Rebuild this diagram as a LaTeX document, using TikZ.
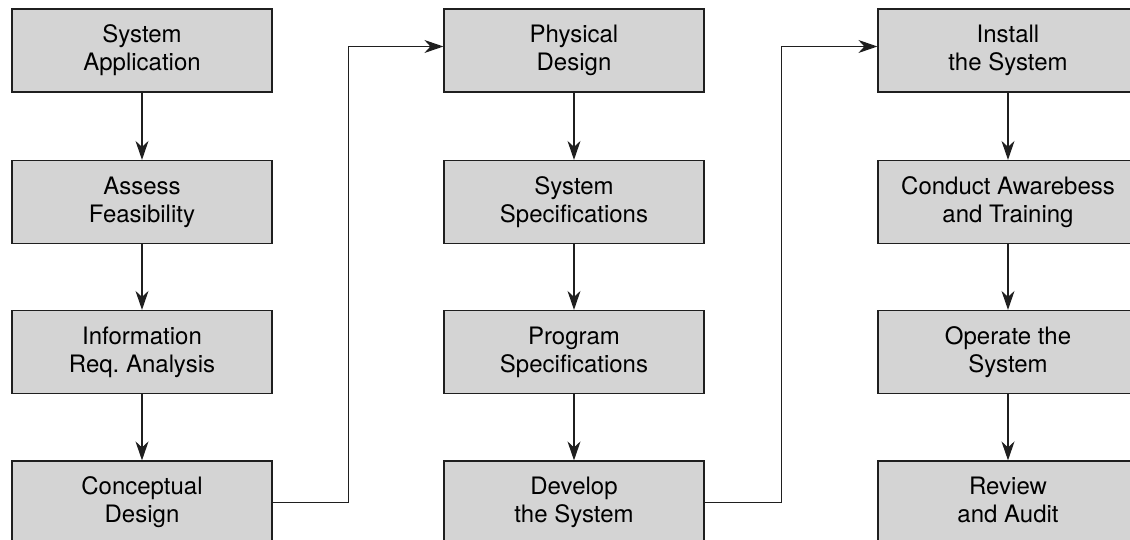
\documentclass[tikz,border=0pt]{standalone}
\usepackage{fontspec}
\setmainfont{TeX Gyre Heros}
\usepackage{tikz}
\usetikzlibrary{arrows.meta}

\definecolor{boxgray}{gray}{0.83}
\definecolor{linegray}{gray}{0.12}

\tikzset{
	stage/.style={draw=linegray, line width=1.2pt, fill=boxgray, minimum width=260pt,
		minimum height=83pt, inner sep=0pt, align=center,
		execute at begin node={\rule{0pt}{24pt}},
		execute at end node={\rule[-5pt]{0pt}{5pt}},
		font=\fontsize{24}{28}\selectfont},
	flow/.style={draw=linegray, line width=1.2pt,
		-{Stealth[length=19pt, width=13pt, inset=6pt]}}
}

\begin{document}
\begin{tikzpicture}[x=1pt, y=-1pt]
	\useasboundingbox (0,0) rectangle (1130,540);
% first column
	\node[stage] (sysapp)   at (142, 50.5)  {System\\Application};
	\node[stage] (feas)     at (142, 202)   {Assess\\Feasibility};
	\node[stage] (inforeq)  at (142, 352)   {Information\\Req.\ Analysis};
	\node[stage] (concept)  at (142, 502.5) {Conceptual\\Design};
% second column
	\node[stage] (phys)     at (574, 50.5)  {Physical\\Design};
	\node[stage] (sysspec)  at (574, 202)   {System\\Specifications};
	\node[stage] (progspec) at (574, 352)   {Program\\Specifications};
	\node[stage] (develop)  at (574, 502.5) {Develop\\the System};
% third column
	\node[stage] (install)  at (1008, 50.5)  {Install\\the System};
	\node[stage] (train)    at (1008, 202)   {Conduct Awarebess\\and Training};
	\node[stage] (operate)  at (1008, 352)   {Operate the\\System};
	\node[stage] (review)   at (1008, 502.5) {Review\\and Audit};
% arrows down each column
	\draw[flow] (sysapp) -- (feas);
	\draw[flow] (feas) -- (inforeq);
	\draw[flow] (inforeq) -- (concept);
	\draw[flow] (phys) -- (sysspec);
	\draw[flow] (sysspec) -- (progspec);
	\draw[flow] (progspec) -- (develop);
	\draw[flow] (install) -- (train);
	\draw[flow] (train) -- (operate);
	\draw[flow] (operate) -- (review);
% arrows between columns
	\draw[flow] (concept.east) -- ++(76,0) |- ([yshift=4pt]phys.west);
	\draw[flow] (develop.east) -- ++(77,0) |- ([yshift=4pt]install.west);
\end{tikzpicture}
\end{document}
